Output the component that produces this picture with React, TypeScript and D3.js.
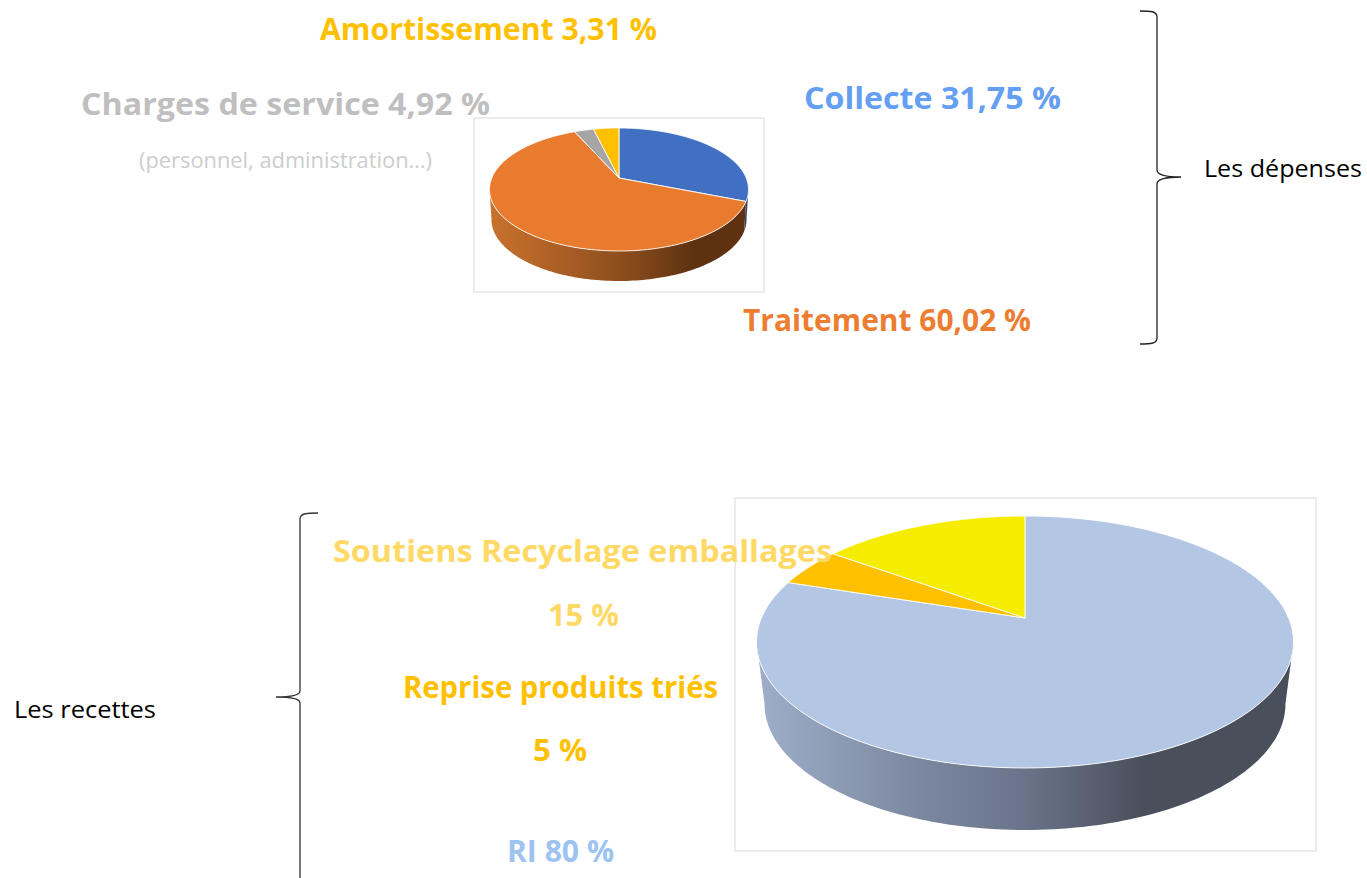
import React from "react";
import * as d3 from "d3";

// ---- data ----
const expenseSeries = ["Collecte", "Traitement", "Charges de service", "Amortissement"];
const expenseValues = [31, 62.3, 2.9, 3.8];
const revenueSeries = ["RI", "Reprise produits triés", "Soutiens Recyclage emballages"];
const revenueValues = [80, 5, 15];

const labelTexts = [
  "Amortissement 3,31 %",
  "Charges de service 4,92 %",
  "(personnel, administration…)",
  "Collecte 31,75 %",
  "Traitement 60,02 %",
  "Soutiens Recyclage emballages",
  "15 %",
  "Reprise produits triés",
  "5 %",
  "RI 80 %",
];
const sideTexts = ["Les dépenses", "Les recettes"];

// ---- styling and layout ----
const expenseFaces = ["#4170C2", "#E97B2E", "#A5A5A5", "#FFC000"];
const revenueFaces = ["#B3C6E3", "#FFC000", "#F5EC00"];
const expenseWalls = [
  [[0, "#33496f"], [1, "#33496f"]],
  [[0, "#c8722c"], [0.3, "#a85d24"], [0.55, "#874a1c"], [0.78, "#5e3210"], [1, "#5e3210"]],
  [[0, "#888"], [1, "#888"]],
  [[0, "#b08500"], [1, "#b08500"]],
];
const revenueWalls = [
  [[0, "#9eaec9"], [0.3, "#7c889f"], [0.5, "#69748a"], [0.72, "#4a4f5c"], [1, "#4a4f5c"]],
  [[0, "#b08500"], [1, "#b08500"]],
  [[0, "#a8a200"], [1, "#a8a200"]],
];

const labelLayout = [
  { x0: 320, x1: 657, y: 40, size: 30, fill: "#FFC000", weight: 700 },
  { x0: 81, x1: 490, y: 115, size: 30, fill: "#BFBFBF", weight: 700 },
  { x0: 139, x1: 432, y: 168, size: 21, fill: "#CDCDCD", weight: 400 },
  { x0: 804, x1: 1061, y: 109, size: 30, fill: "#649FF4", weight: 700 },
  { x0: 743, x1: 1031, y: 331, size: 30, fill: "#ED7D31", weight: 700 },
  { x0: 333, x1: 832, y: 562, size: 30, fill: "#FFD966", weight: 700 },
  { x0: 548, x1: 619, y: 626, size: 30, fill: "#FFD966", weight: 700 },
  { x0: 403, x1: 718, y: 698, size: 30, fill: "#FFC000", weight: 700 },
  { x0: 533, x1: 587, y: 761, size: 30, fill: "#FFC000", weight: 700 },
  { x0: 507, x1: 614, y: 862, size: 30, fill: "#9DC3F0", weight: 700 },
];
const sideLayout = [
  { x0: 1204, x1: 1362, y: 177 },
  { x0: 14, x1: 156, y: 718 },
];

type Geo = {
  frame: [number, number, number, number];
  apex: [number, number];
  left: number; right: number; top: number; bottom: number;
  depth: number; shrink: number;
  wallFrom: number; wallTo: number;
};
const topGeo: Geo = {
  frame: [474, 118, 764, 292], apex: [619, 178],
  left: 490, right: 749, top: 128, bottom: 251,
  depth: 30, shrink: 0.985, wallFrom: 100, wallTo: 260,
};
const bottomGeo: Geo = {
  frame: [735, 498, 1316, 851], apex: [1025, 618],
  left: 757, right: 1294, top: 516, bottom: 768,
  depth: 62, shrink: 0.97, wallFrom: 101, wallTo: 259,
};

function projector(g: Geo) {
  const up = g.apex[1] - g.top;
  const down = g.bottom - g.apex[1];
  const k = (up - down) / (up + down);
  const b = up * (1 - k);
  const a = ((g.right - g.left) / 2) * Math.sqrt(1 - k * k);
  return (theta: number, lower = false): [number, number] => {
    const u = Math.sin(theta);
    const v = -Math.cos(theta);
    const den = 1 + k * v;
    const x = (a * u) / den;
    const y = (b * v) / den;
    return lower
      ? [g.apex[0] + x * g.shrink, g.apex[1] + y + g.depth]
      : [g.apex[0] + x, g.apex[1] + y];
  };
}

const rad = (deg: number) => (deg * Math.PI) / 180;

function Pie3D({ id, geo, values, faces, walls }: { id: string; geo: Geo; values: number[]; faces: string[]; walls: any[] }) {
  const project = projector(geo);
  const arcs = d3.pie<number>().sort(null).startAngle(0).endAngle(2 * Math.PI)(values);
  const line = d3.line();
  const sample = (a0: number, a1: number, lower = false) =>
    d3.range(0, 121).map((i) => project(a0 + ((a1 - a0) * i) / 120, lower));
  const wallA0 = rad(geo.wallFrom);
  const wallA1 = rad(geo.wallTo);
  const gx0 = geo.left;
  const gx1 = geo.right;
  return (
    <g>
      <rect
        x={geo.frame[0]} y={geo.frame[1]}
        width={geo.frame[2] - geo.frame[0]} height={geo.frame[3] - geo.frame[1]}
        fill="#fff" stroke="#E6E6E6" strokeWidth={1.5}
      />
      <defs>
        {walls.map((stops, i) => (
          <linearGradient key={i} id={`${id}-w${i}`} gradientUnits="userSpaceOnUse" x1={gx0} x2={gx1} y1={0} y2={0}>
            {stops.map(([o, c]: [number, string], j: number) => (
              <stop key={j} offset={o} stopColor={c} />
            ))}
          </linearGradient>
        ))}
      </defs>
      {arcs.map((d, i) => {
        const a0 = Math.max(d.startAngle, wallA0);
        const a1 = Math.min(d.endAngle, wallA1);
        if (a1 <= a0) return null;
        const pts = [...sample(a0, a1), ...sample(a1, a0, true)];
        return <path key={i} d={line(pts) + "Z"} fill={`url(#${id}-w${i})`} />;
      })}
      {arcs.map((d, i) => (
        <path
          key={i}
          d={line([geo.apex, ...sample(d.startAngle, d.endAngle)]) + "Z"}
          fill={faces[i]} stroke="#fff" strokeOpacity={0.85} strokeWidth={1} strokeLinejoin="round"
        />
      ))}
    </g>
  );
}

const rightBrace = "M1140,11 C1150,11 1157,11 1157,17 L1157,170 C1157,175 1166,177 1181,177 C1166,177 1157,179 1157,184 L1157,338 C1157,344 1150,344 1140,344";
const leftBrace = "M318,513 C308,513 300,513 300,519 L300,691 C300,695 291,697 276,697 C291,697 300,699 300,703 L300,878";

export default function App() {
  return (
    <svg
      width={1367} height={878} viewBox="0 0 1367 878"
      style={{ position: "absolute", left: 0, top: 0, display: "block", background: "#fff" }}
    >
      <Pie3D id="exp" geo={topGeo} values={expenseValues} faces={expenseFaces} walls={expenseWalls} />
      <Pie3D id="rev" geo={bottomGeo} values={revenueValues} faces={revenueFaces} walls={revenueWalls} />
      <path d={rightBrace} fill="none" stroke="#222" strokeWidth={1.3} />
      <path d={leftBrace} fill="none" stroke="#333" strokeWidth={1.3} />
      {labelTexts.map((t, i) => {
        const l = labelLayout[i];
        return (
          <text
            key={i} x={l.x0} y={l.y} fill={l.fill} fontSize={l.size} fontWeight={l.weight}
            fontFamily="'Open Sans', sans-serif"
            textLength={l.x1 - l.x0} lengthAdjust="spacingAndGlyphs"
          >{t}</text>
        );
      })}
      {sideTexts.map((t, i) => {
        const l = sideLayout[i];
        return (
          <text
            key={i} x={l.x0} y={l.y} fill="#000" fontSize={24}
            fontFamily="'Open Sans', sans-serif"
            textLength={l.x1 - l.x0} lengthAdjust="spacingAndGlyphs"
          >{t}</text>
        );
      })}
    </svg>
  );
}
